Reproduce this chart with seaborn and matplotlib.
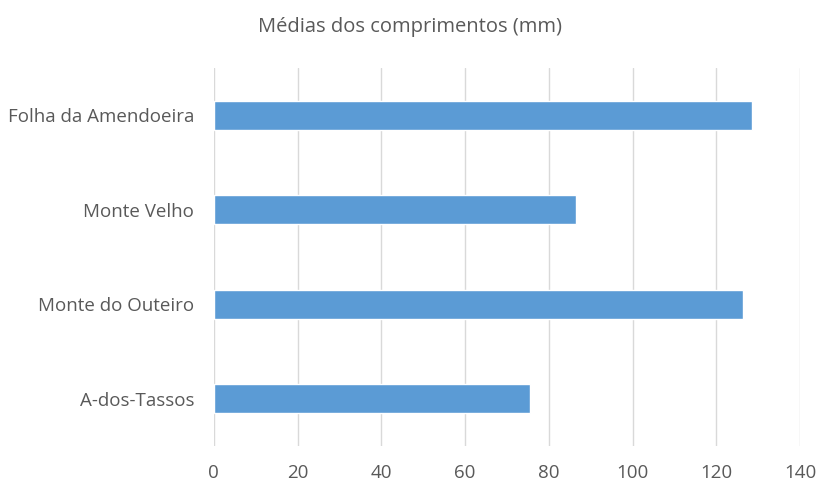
import matplotlib
matplotlib.use("Agg")
import matplotlib.pyplot as plt
import seaborn as sns
import pandas as pd

# Data
locais = ["Folha da Amendoeira", "Monte Velho", "Monte do Outeiro", "A-dos-Tassos"]
medias = [128.4, 86.5, 126.4, 75.5]
x_ticks = [0, 20, 40, 60, 80, 100, 120, 140]

df = pd.DataFrame({"Local": locais, "Media": medias})

sns.set_style("white")
plt.rcParams["font.family"] = ["Open Sans", "DejaVu Sans"]

fig = plt.figure(figsize=(8.19, 4.83), dpi=100)
ax = fig.add_axes([0.261, 0.077, 0.716, 0.782])

sns.barplot(data=df, x="Media", y="Local", color="#5B9BD5", width=0.31,
            saturation=1, ax=ax, zorder=3)

ax.set_xlim(0, 140)
ax.set_xticks(x_ticks)
ax.xaxis.grid(True, color="#D9D9D9", linewidth=1.0, zorder=0)
ax.yaxis.grid(False)
for s in ax.spines.values():
    s.set_visible(False)
ax.set_xlabel("")
ax.set_ylabel("")
ax.tick_params(axis="both", length=0, labelsize=13.5, colors="#595959")
ax.tick_params(axis="y", pad=14)
ax.tick_params(axis="x", pad=13)

fig.suptitle("Médias dos comprimentos (mm)", y=0.965, fontsize=14.5, color="#595959")

fig.savefig("out.png", dpi=100)
